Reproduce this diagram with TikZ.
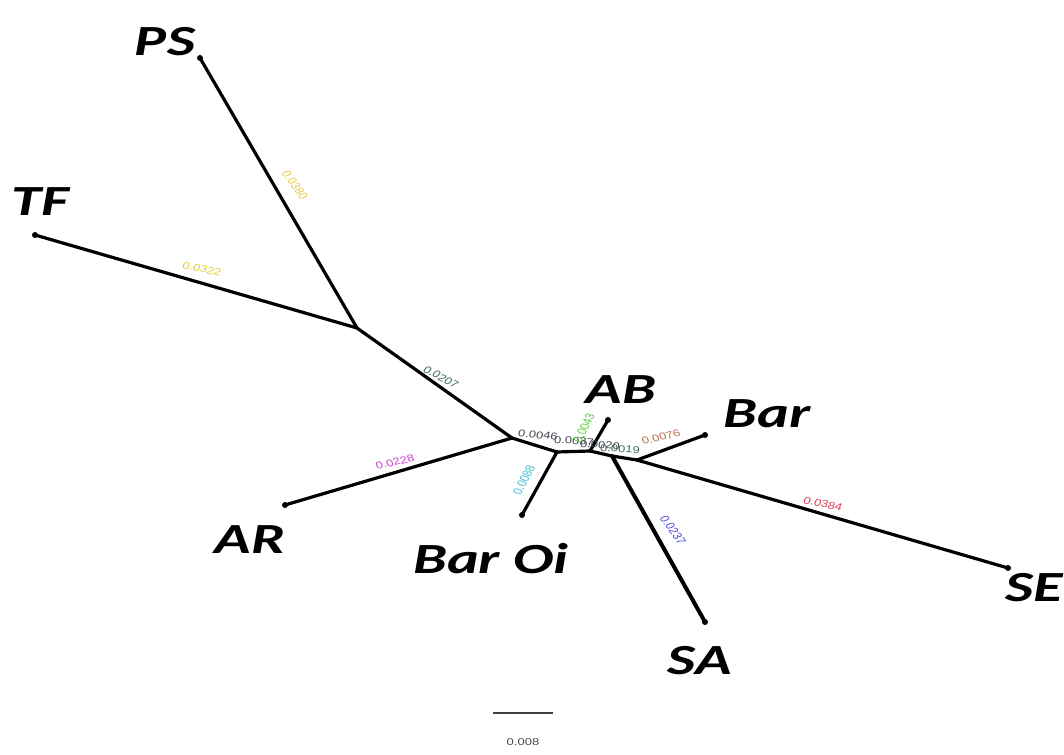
\documentclass[tikz,border=0pt]{standalone}
\usepackage{fontspec}
\setmainfont{Liberation Sans}
\newfontfamily\taxfont{Carlito}
\definecolor{cYel}{HTML}{E6CF3A}
\definecolor{cTeal}{HTML}{3F6F62}
\definecolor{cMag}{HTML}{D040D8}
\definecolor{cCyan}{HTML}{38C4D4}
\definecolor{cGreen}{HTML}{5CD040}
\definecolor{cGray}{HTML}{404850}
\definecolor{cBrown}{HTML}{C0704C}
\definecolor{cRed}{HTML}{E0405A}
\definecolor{cBlue}{HTML}{4A48E0}
\begin{document}
\begin{tikzpicture}[x=1pt,y=-1pt,
  br/.style={line width=3.2pt, line cap=round},
  tipdot/.style={circle,fill=black,inner sep=0pt,minimum size=6pt},
  tax/.style={font=\taxfont\bfseries\itshape\fontsize{43}{43}\selectfont, xscale=1.4, inner sep=0pt},
  bl/.style={font=\fontsize{10}{10}\selectfont, xscale=1.3, inner sep=0pt}]
\useasboundingbox (0,0) rectangle (1064,754);
\fill[white] (0,0) rectangle (1064,754);
% internal nodes
\coordinate (N1) at (357,328);
\coordinate (N2) at (512,438);
\coordinate (N3) at (557,452);
\coordinate (N4) at (590,451);
\coordinate (N5) at (612,456);
\coordinate (N6) at (637,460);
% tips
\node[tipdot] (PS) at (200,58) {};
\node[tipdot] (TF) at (35,235) {};
\node[tipdot] (AR) at (285,505) {};
\node[tipdot] (BO) at (522,515) {};
\node[tipdot] (AB) at (608,420) {};
\node[tipdot] (SA) at (705,622) {};
\node[tipdot] (BAR) at (705,435) {};
\node[tipdot] (SE) at (1008,568) {};
% branches
\draw[br] (PS.center) -- (N1);
\draw[br] (TF.center) -- (N1);
\draw[br] (N1) -- (N2);
\draw[br] (N2) -- (AR.center);
\draw[br] (N2) -- (N3);
\draw[br] (N3) -- (BO.center);
\draw[br] (N3) -- (N4);
\draw[br] (N4) -- (AB.center);
\draw[br] (N4) -- (N5);
\draw[br, line width=4pt] (N5) -- (SA.center);
\draw[br] (N5) -- (N6);
\draw[br] (N6) -- (BAR.center);
\draw[br] (N6) -- (SE.center);
% taxon labels
\node[tax] (lPS) at (165,42) {PS};
\node[tax] (lTF) at (40,202) {TF};
\node[tax] (lAB) at (621,390) {AB};
\node[tax] (lBar) at (767,414) {Bar};
\node[tax] (lAR) at (250,540) {AR};
\node[tax] (lBO) at (491,559) {Bar Oi};
\node[tax] (lSA) at (700,661) {SA};
\node[tax] (lSE) at (1034,588) {SE};
% branch lengths
\node[bl, text=cYel, rotate=-60] (bPS) at (295,185) {0.0380};
\node[bl, text=cYel, rotate=-16] (bTF) at (202,269) {0.0322};
\node[bl, text=cTeal, rotate=-35] (bN1) at (441,377) {0.0207};
\node[bl, text=cMag, rotate=16] (bAR) at (395,462) {0.0228};
\node[bl, text=cCyan, rotate=68] (bBO) at (524,480) {0.0088};
\node[bl, text=cGray, rotate=-8] (bN2) at (538,435) {0.0046};
\node[bl, text=cGray, rotate=-4] (bN3) at (574,441) {0.0037};
\node[bl, text=cGreen, rotate=70] (bAB) at (584,428) {0.0043};
\node[bl, text=cGray, rotate=-4] (bN4) at (600,445) {0.0020};
\node[bl, text=cTeal, rotate=-4] (bN5) at (620,449) {0.0019};
\node[bl, text=cBrown, rotate=17] (bBar) at (661,437) {0.0076};
\node[bl, text=cRed, rotate=-16] (bSE) at (823,504) {0.0384};
\node[bl, text=cBlue, rotate=-60] (bSA) at (673,530) {0.0237};
% scale bar
\coordinate (s1) at (493,713);
\coordinate (s2) at (553,713);
\draw[line width=1.2pt, black!75] (s1) -- (s2);
\node[bl, text=black!70] (sc) at (523,742) {0.008};
\end{tikzpicture}
\end{document}
